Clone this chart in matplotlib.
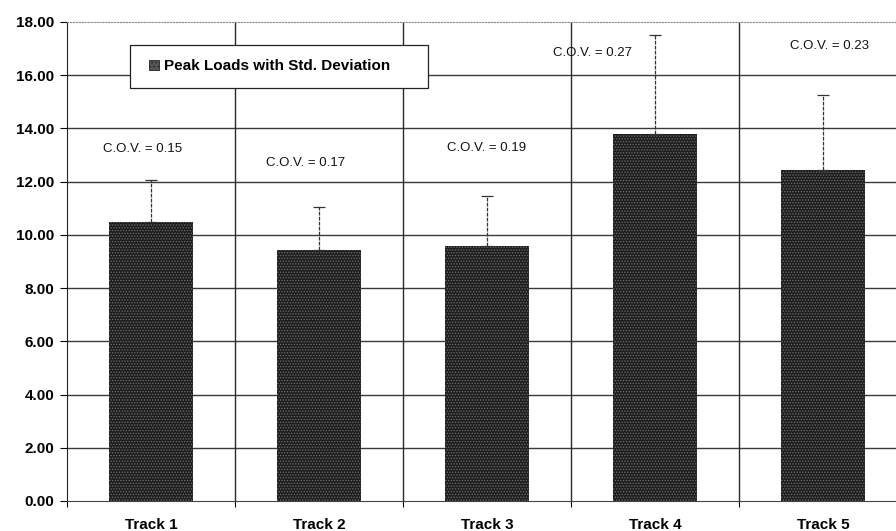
import matplotlib
matplotlib.use("Agg")
import matplotlib.pyplot as plt
from matplotlib.patches import Patch, Rectangle
import numpy as np

categories = ["Track 1", "Track 2", "Track 3", "Track 4", "Track 5"]
peak_loads = [10.5, 9.45, 9.6, 13.8, 12.45]
std_dev = [1.55, 1.6, 1.85, 3.7, 2.8]
cov_labels = ["C.O.V. = 0.15", "C.O.V. = 0.17", "C.O.V. = 0.19", "C.O.V. = 0.27", "C.O.V. = 0.23"]
cov_x = [-0.05, 0.92, 2.0, 2.63, 4.04]
cov_y = [13.23, 12.7, 13.27, 16.84, 17.1]
yticks = [0, 2, 4, 6, 8, 10, 12, 14, 16, 18]

plt.rcParams['font.family'] = ['Liberation Sans', 'DejaVu Sans']
plt.rcParams['hatch.linewidth'] = 0.6

W, H = 896, 531
fig = plt.figure(figsize=(W / 100, H / 100), dpi=100)
ax = fig.add_axes([0.0748, 0.0565, 1.0123 - 0.0748, 0.9586 - 0.0565])

x = np.arange(len(categories))
ax.bar(x, peak_loads, width=0.5, color='#1e1e1e', edgecolor='#707070',
       hatch='......', linewidth=0, zorder=3)
eb = ax.errorbar(x, peak_loads, yerr=[np.zeros(len(std_dev)), std_dev], fmt='none',
                 ecolor='#333333', elinewidth=0.9, capsize=4, capthick=0.9, zorder=4)
for lc in eb[2]:
    lc.set_linestyle((0, (3, 1)))

ax.set_xlim(-0.5, 4.5)
ax.set_ylim(0, 18)
ax.set_yticks(yticks)
ax.set_yticklabels([f"{v:.2f}" for v in yticks], fontsize=11, fontweight='bold')
ax.set_xticks(x)
ax.set_xticklabels(categories, fontsize=11, fontweight='bold')
ax.tick_params(axis='x', which='major', length=0, pad=12)
ax.set_xticks(np.arange(-0.5, 5.0, 1.0), minor=True)
ax.tick_params(axis='x', which='minor', length=4, width=0.8, direction='out')
ax.tick_params(axis='y', length=5, width=0.8, direction='out', pad=4)

for yv in yticks[1:-1]:
    ax.axhline(yv, color='#3a3a3a', linewidth=1.0, zorder=1)
for xv in [0.5, 1.5, 2.5, 3.5]:
    ax.axvline(xv, color='#2a2a2a', linewidth=1.0, zorder=1)

ax.spines['right'].set_visible(False)
ax.spines['top'].set_linestyle(':')
ax.spines['top'].set_color('#888888')
ax.spines['left'].set_color('#222222')
ax.spines['bottom'].set_color('#444444')

for lbl, xx, yy in zip(cov_labels, cov_x, cov_y):
    ax.text(xx, yy, lbl, ha='center', va='center', fontsize=9.5, color='#111111', zorder=5)

# legend frame (drawn as a figure-level box)
bx0, by0, bx1, by1 = 130, 45, 428, 88
box = Rectangle((bx0 / W, 1 - by1 / H), (bx1 - bx0) / W, (by1 - by0) / H,
                transform=fig.transFigure, facecolor='white', edgecolor='#222222',
                linewidth=0.9, zorder=10)
fig.patches.append(box)

handle = Patch(facecolor='#555555', edgecolor='#222222', hatch='....', linewidth=0.6)
leg = fig.legend([handle], ["Peak Loads with Std. Deviation"], loc='center left',
                 bbox_to_anchor=(149 / W, 1 - 66.5 / H),
                 frameon=False, prop={'weight': 'bold', 'size': 11},
                 handlelength=0.65, handleheight=0.65, handletextpad=0.35,
                 borderpad=0, borderaxespad=0)
leg.set_zorder(11)

fig.savefig("out.png", dpi=100)
